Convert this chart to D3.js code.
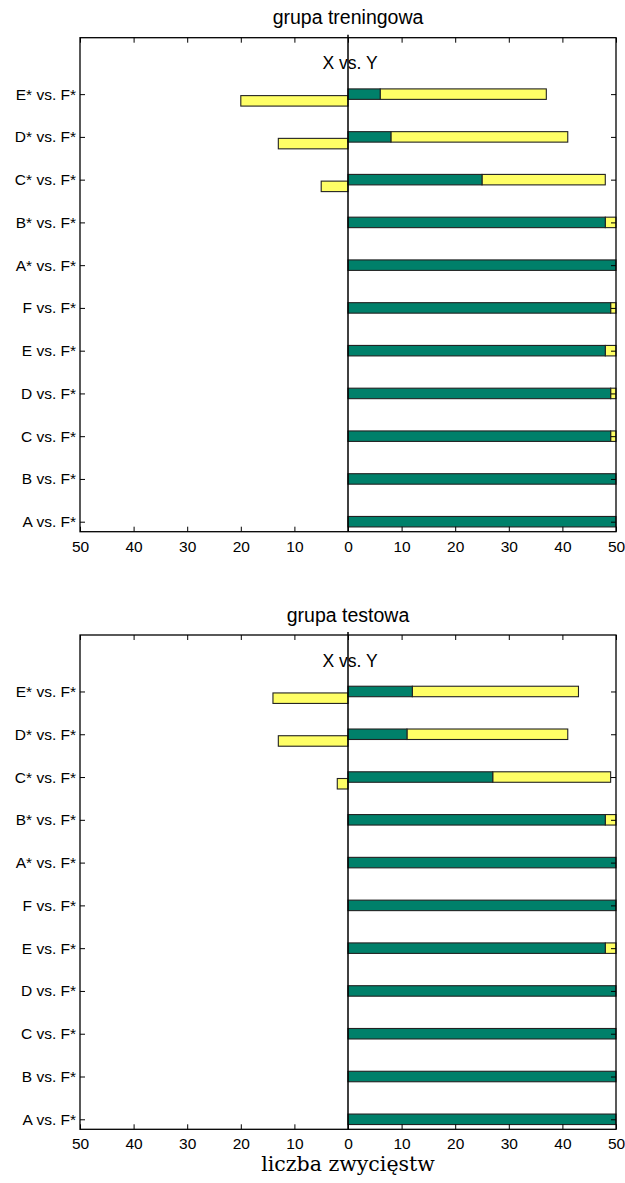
<!DOCTYPE html>
<html>
<head>
<meta charset="utf-8">
<script src="https://cdn.jsdelivr.net/npm/d3@7"></script>
<style>
  html, body { margin: 0; padding: 0; background: #fff; }
  svg { display: block; }
</style>
</head>
<body>
<svg id="chart" width="625" height="1183"></svg>
<script>
// ---------- data ----------
const categories = ["A vs. F*", "B vs. F*", "C vs. F*", "D vs. F*", "E vs. F*", "F vs. F*",
                    "A* vs. F*", "B* vs. F*", "C* vs. F*", "D* vs. F*", "E* vs. F*"];
const xTicks = [-50, -40, -30, -20, -10, 0, 10, 20, 30, 40, 50];

// grupa treningowa
const trainGreen  = [50, 50, 49, 49, 48, 49, 50, 48, 25, 8, 6];
const trainYellow = [0, 0, 1, 1, 2, 1, 0, 2, 23, 33, 31];
const trainNeg    = [0, 0, 0, 0, 0, 0, 0, 0, 5, 13, 20];

// grupa testowa
const testGreen  = [50, 50, 50, 50, 48, 50, 50, 48, 27, 11, 12];
const testYellow = [0, 0, 0, 0, 2, 0, 0, 2, 22, 30, 31];
const testNeg    = [0, 0, 0, 0, 0, 0, 0, 0, 2, 13, 14];

const panels = [
  { title: "grupa treningowa", green: trainGreen, yellow: trainYellow, neg: trainNeg, top: 37.7, bottom: 531.7 },
  { title: "grupa testowa",    green: testGreen,  yellow: testYellow,  neg: testNeg,  top: 635,  bottom: 1129.3 }
];

// ---------- style ----------
const GREEN = "#00806a";
const YELLOW = "#ffff66";
const LEFT = 80, RIGHT = 616;
const SANS = "'Liberation Sans', Arial, Helvetica, sans-serif";

const svg = d3.select("#chart");

const x = d3.scaleLinear().domain([-50, 50]).range([LEFT, RIGHT]);

panels.forEach(p => {
  const g = svg.append("g");
  const y = d3.scaleLinear().domain([-0.234, 11.32]).range([p.bottom, p.top]);
  const unit = y(0) - y(1);
  const barH = 0.245 * unit;
  const negOff = 0.157 * unit;

  const idx = d3.range(categories.length);

  g.selectAll("rect.neg").data(idx.filter(i => p.neg[i] > 0)).join("rect")
    .attr("class", "neg")
    .attr("x", i => x(-p.neg[i]))
    .attr("y", i => y(i) - barH / 2 + negOff)
    .attr("width", i => x(0) - x(-p.neg[i]))
    .attr("height", barH)
    .attr("fill", YELLOW).attr("stroke", "#222").attr("stroke-width", 1.1);

  g.selectAll("rect.yel").data(idx.filter(i => p.yellow[i] > 0)).join("rect")
    .attr("class", "yel")
    .attr("x", i => x(p.green[i]))
    .attr("y", i => y(i) - barH / 2)
    .attr("width", i => x(p.green[i] + p.yellow[i]) - x(p.green[i]))
    .attr("height", barH)
    .attr("fill", YELLOW).attr("stroke", "#222").attr("stroke-width", 1.1);

  g.selectAll("rect.grn").data(idx).join("rect")
    .attr("class", "grn")
    .attr("x", x(0))
    .attr("y", i => y(i) - barH / 2)
    .attr("width", i => x(p.green[i]) - x(0))
    .attr("height", barH)
    .attr("fill", GREEN).attr("stroke", "#222").attr("stroke-width", 1.1);

  g.append("line")
    .attr("x1", x(0)).attr("x2", x(0))
    .attr("y1", p.top - 3).attr("y2", p.bottom)
    .attr("stroke", "#000").attr("stroke-width", 1.5);

  g.append("rect")
    .attr("x", LEFT).attr("y", p.top)
    .attr("width", RIGHT - LEFT).attr("height", p.bottom - p.top)
    .attr("fill", "none").attr("stroke", "#000").attr("stroke-width", 1.3);

  const xAxis = d3.axisBottom(x).tickValues(xTicks).tickSize(-5).tickPadding(9)
    .tickFormat(d => Math.abs(d));
  const gx = g.append("g").attr("transform", `translate(0,${p.bottom})`).call(xAxis);
  gx.select(".domain").remove();
  gx.selectAll("text").attr("font-family", SANS).attr("font-size", 15.5).attr("fill", "#000");
  gx.selectAll("line").attr("stroke", "#000");

  const xTop = d3.axisTop(x).tickValues(xTicks).tickSize(-5).tickFormat("");
  const gt = g.append("g").attr("transform", `translate(0,${p.top})`).call(xTop);
  gt.select(".domain").remove();
  gt.selectAll("line").attr("stroke", "#000");

  const yAxis = d3.axisLeft(y).tickValues(idx).tickSize(-5).tickPadding(4)
    .tickFormat(i => categories[i]);
  const gy = g.append("g").attr("transform", `translate(${LEFT},0)`).call(yAxis);
  gy.select(".domain").remove();
  gy.selectAll("text").attr("font-family", SANS).attr("font-size", 15.5).attr("fill", "#000");
  gy.selectAll("line").attr("stroke", "#000");

  const yR = d3.axisRight(y).tickValues(idx).tickSize(-5).tickFormat("");
  const gr = g.append("g").attr("transform", `translate(${RIGHT},0)`).call(yR);
  gr.select(".domain").remove();
  gr.selectAll("line").attr("stroke", "#000");

  g.append("text")
    .attr("x", (LEFT + RIGHT) / 2).attr("y", p.top - 13.5)
    .attr("text-anchor", "middle")
    .attr("font-family", SANS).attr("font-size", 19.5)
    .text(p.title);

  g.append("text")
    .attr("x", x(0.4)).attr("y", p.top + 31.5)
    .attr("text-anchor", "middle")
    .attr("font-family", SANS).attr("font-size", 17.5)
    .text("X vs. Y");
});

svg.append("text")
  .attr("x", (LEFT + RIGHT) / 2).attr("y", 1171)
  .attr("text-anchor", "middle")
  .attr("font-family", "'DejaVu Serif', 'Liberation Serif', serif")
  .attr("font-size", 20.5)
  .text("liczba zwycięstw");
</script>
</body>
</html>
